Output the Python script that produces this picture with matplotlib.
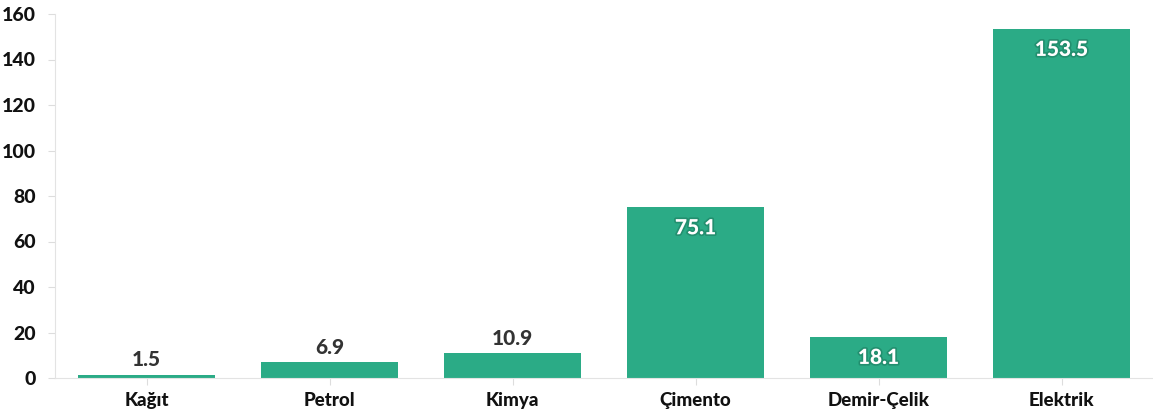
import numpy as np
import matplotlib.pyplot as plt
import matplotlib.patheffects as pe

categories = ["Kağıt", "Petrol", "Kimya", "Çimento", "Demir-Çelik", "Elektrik"]
values = [1.5, 6.9, 10.9, 75.1, 18.1, 153.5]
yticks = [0, 20, 40, 60, 80, 100, 120, 140, 160]

plt.rcParams['font.family'] = ['Lato', 'DejaVu Sans']

fig = plt.figure(figsize=(11.53, 4.17), dpi=100)
ax = fig.add_axes([55 / 1153, 39 / 417, 1098 / 1153, 364 / 417])

x = np.arange(len(categories))
ax.bar(x, values, width=0.745, color="#2bab86", zorder=2)

ax.set_xlim(-0.5, len(categories) - 0.5)
ax.set_ylim(0, 160)
ax.set_yticks(yticks)
ax.set_xticks(x)
ax.set_xticklabels(categories)

for lab in ax.get_yticklabels():
    lab.set_fontweight("black")
    lab.set_fontsize(14)
    lab.set_color("#111111")
for lab in ax.get_xticklabels():
    lab.set_fontweight("black")
    lab.set_fontsize(13.5)
    lab.set_color("#111111")

ax.tick_params(axis="y", length=5, color="#dddddd", pad=9)
ax.tick_params(axis="x", length=5, color="#dddddd", pad=5)

for s in ["top", "right"]:
    ax.spines[s].set_visible(False)
ax.spines["left"].set_color("#e3e3e3")
ax.spines["bottom"].set_color("#e3e3e3")

for xi, v in zip(x, values):
    if v > 15:
        ax.annotate(f"{v}", (xi, v), xytext=(0, -8), textcoords="offset points",
                    ha="center", va="top", fontsize=15, fontweight="black",
                    color="white",
                    path_effects=[pe.withStroke(linewidth=2.5, foreground="#1d7d60", alpha=0.6)])
    else:
        ax.annotate(f"{v}", (xi, v), xytext=(0, 4), textcoords="offset points",
                    ha="center", va="bottom", fontsize=15, fontweight="black",
                    color="#333333")

fig.savefig("out.png", dpi=100)
